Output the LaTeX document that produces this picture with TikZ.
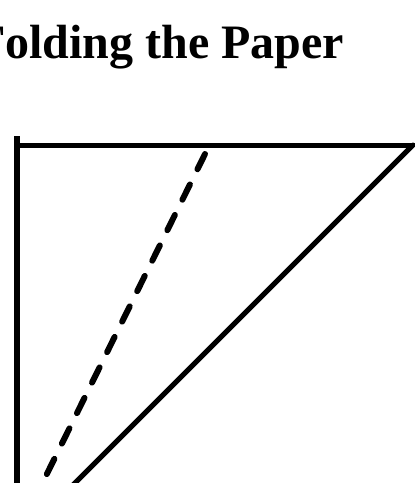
\documentclass[tikz,border=0pt]{standalone}
\usepackage{fontspec}
\setmainfont{Liberation Serif}
\begin{document}
\begin{tikzpicture}[x=1pt,y=-1pt,
  edge/.style={line width=5pt, black},
  foldline/.style={line width=6pt, black, line cap=round, dash pattern=on 17pt off 17pt}]
\useasboundingbox (0,0) rectangle (415,483);
\clip (0,0) rectangle (415,483);
\fill[white] (0,0) rectangle (415,483);
\node[anchor=base west, inner sep=0pt, font=\bfseries\fontsize{48}{50}\selectfont] (title) at (-24,58) {Folding the Paper};
\coordinate (tl) at (17,136);
\coordinate (bl) at (17,490);
\coordinate (cl) at (14.5,145);
\coordinate (tr) at (413,145);
\coordinate (br) at (66,492);
\coordinate (ft) at (205,154);
\coordinate (fb) at (37,494);
\draw[edge, line width=6pt] (tl) -- (bl);
\draw[edge] (cl) -- (tr);
\draw[edge, line cap=round] (tr) -- (br);
\draw[foldline] (ft) -- (fb);
\end{tikzpicture}
\end{document}
